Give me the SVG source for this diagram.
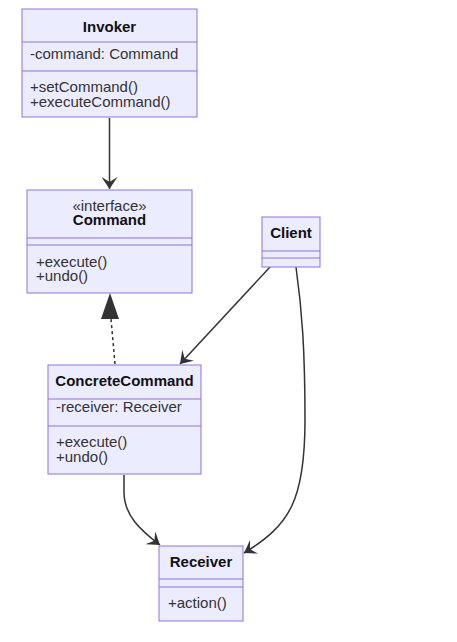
<svg xmlns="http://www.w3.org/2000/svg" width="457" height="642" viewBox="0 0 457 642">
<style>
.box{fill:#ECECFF;stroke:#9370DB;stroke-width:1}
.div{stroke:#9370DB;stroke-width:1}
.t{font-family:"Liberation Sans",Arial,sans-serif;font-size:15px;fill:#333}
.b{font-weight:bold;text-anchor:middle;fill:#111}
.c{text-anchor:middle}
.edge{fill:none;stroke:#333;stroke-width:1.5}
</style>
<defs>
<marker id="arr" viewBox="0 0 12 16" refX="12" refY="8" markerWidth="12" markerHeight="16" markerUnits="userSpaceOnUse" orient="auto">
<path d="M12,8 L0,16 L5,8 L0,0 Z" fill="#333"/>
</marker>
</defs>
<g id="connectors">
<path class="edge" d="M109.5,118 L109.5,189" marker-end="url(#arr)"/>
<path class="edge" d="M115,364 L111,319" stroke-dasharray="3,3"/>
<polygon points="110,293 101,319 119,319" fill="#333"/>
<path class="edge" d="M270,267 L180,364" marker-end="url(#arr)"/>
<path class="edge" d="M124,475 L124,492 C124,515 140,530 160,545" marker-end="url(#arr)"/>
<path class="edge" d="M296,267 C302,310 305,350 305,420 C305,500 290,525 244,553" marker-end="url(#arr)"/>
</g>
<g id="Invoker">
<rect class="box" x="22" y="9" width="175" height="108"/>
<line class="div" x1="22" y1="42" x2="197" y2="42"/>
<line class="div" x1="22" y1="71" x2="197" y2="71"/>
<text class="t b" x="109.5" y="32">Invoker</text>
<text class="t" x="30" y="59">-command: Command</text>
<text class="t" x="30" y="92">+setCommand()</text>
<text class="t" x="30" y="107">+executeCommand()</text>
</g>
<g id="Command">
<rect class="box" x="27" y="190" width="165" height="103"/>
<line class="div" x1="27" y1="238" x2="192" y2="238"/>
<line class="div" x1="27" y1="245" x2="192" y2="245"/>
<text class="t c" x="109.5" y="211">«interface»</text>
<text class="t b" x="109.5" y="225">Command</text>
<text class="t" x="36" y="267">+execute()</text>
<text class="t" x="36" y="281">+undo()</text>
</g>
<g id="Client">
<rect class="box" x="262" y="217" width="58" height="50"/>
<line class="div" x1="262" y1="251" x2="320" y2="251"/>
<line class="div" x1="262" y1="258" x2="320" y2="258"/>
<text class="t b" x="291" y="238">Client</text>
</g>
<g id="ConcreteCommand">
<rect class="box" x="48" y="365" width="153" height="109"/>
<line class="div" x1="48" y1="399" x2="201" y2="399"/>
<line class="div" x1="48" y1="426" x2="201" y2="426"/>
<text class="t b" x="124.5" y="386">ConcreteCommand</text>
<text class="t" x="56" y="412">-receiver: Receiver</text>
<text class="t" x="56" y="447">+execute()</text>
<text class="t" x="56" y="462">+undo()</text>
</g>
<g id="Receiver">
<rect class="box" x="159" y="546" width="84" height="75"/>
<line class="div" x1="159" y1="579" x2="243" y2="579"/>
<line class="div" x1="159" y1="587" x2="243" y2="587"/>
<text class="t b" x="201" y="567">Receiver</text>
<text class="t" x="168" y="608">+action()</text>
</g>
</svg>
